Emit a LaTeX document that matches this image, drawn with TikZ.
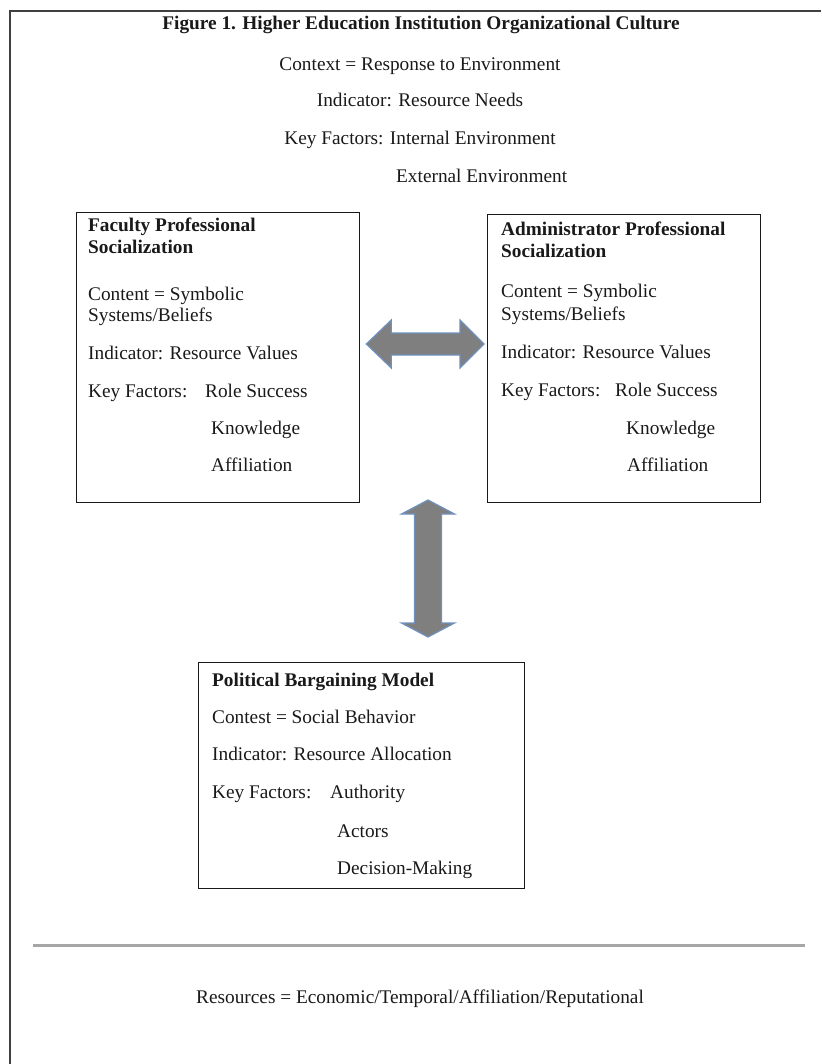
\documentclass[tikz,border=0pt]{standalone}
\usepackage{fontspec}
\setmainfont{Liberation Serif}
\usetikzlibrary{calc}
\definecolor{arrowgray}{RGB}{127,127,127}
\definecolor{arrowedge}{RGB}{110,145,190}
\definecolor{inkc}{RGB}{25,25,25}
\begin{document}
\begin{tikzpicture}[x=1pt,y=-1pt,
  txt/.style={inner sep=0pt, font=\fontsize{19.3}{23}\selectfont, text=inkc},
  lt/.style={txt, anchor=mid west},
  ct/.style={txt, anchor=mid},
  bt/.style={lt, font=\fontsize{19.3}{23}\selectfont\bfseries},
  box/.style={draw=inkc, line width=1.3pt, inner sep=0pt, anchor=north west},
  blk/.style={fill=arrowgray, draw=arrowedge, line width=1.2pt, line join=miter}]
\useasboundingbox (0,0) rectangle (821,1064);
% outer frame
\draw[line width=2pt, draw=black!75] (10,1064) -- (10,11) -- (821,11);

% header texts
\node[ct, font=\fontsize{19.3}{23}\selectfont\bfseries] (title) at (421,27) {Figure 1. Higher Education Institution Organizational Culture};
\node[ct] (h1) at (420,68) {Context = Response to Environment};
\node[ct] (h2) at (420,104) {Indicator: Resource Needs};
\node[ct] (h3) at (420,142) {Key Factors: Internal Environment};
\node[lt] (h4) at (396,180) {External Environment};

% boxes
\node[box, minimum width=283, minimum height=290] (fac) at (76,212) {};
\node[box, minimum width=273, minimum height=288] (adm) at (487,214) {};
\node[box, minimum width=326, minimum height=226] (pol) at (198,662) {};

% faculty box text
\node[bt] (f1) at (88,229) {Faculty Professional};
\node[bt] (f2) at (88,251) {Socialization};
\node[lt] (f3) at (88,298) {Content = Symbolic};
\node[lt] (f4) at (88,319) {Systems/Beliefs};
\node[lt] (f5) at (88,357) {Indicator: Resource Values};
\node[lt] (f6) at (88,395) {Key Factors:};
\node[lt] (f6b) at (205,395) {Role Success};
\node[lt] (f7) at (211,432) {Knowledge};
\node[lt] (f8) at (211,469) {Affiliation};

% administrator box text
\node[bt] (a1) at (501,233) {Administrator Professional};
\node[bt] (a2) at (501,255) {Socialization};
\node[lt] (a3) at (501,295) {Content = Symbolic};
\node[lt] (a4) at (501,318) {Systems/Beliefs};
\node[lt] (a5) at (501,356) {Indicator: Resource Values};
\node[lt] (a6) at (501,394) {Key Factors:};
\node[lt] (a6b) at (615,394) {Role Success};
\node[lt] (a7) at (626,432) {Knowledge};
\node[lt] (a8) at (627,469) {Affiliation};

% political box text
\node[bt] (p1) at (212,684) {Political Bargaining Model};
\node[lt] (p2) at (212,721) {Contest = Social Behavior};
\node[lt] (p3) at (212,758) {Indicator: Resource Allocation};
\node[lt] (p4) at (212,796) {Key Factors:};
\node[lt] (p4b) at (330,796) {Authority};
\node[lt] (p5) at (337,835) {Actors};
\node[lt] (p6) at (337,872) {Decision-Making};

% horizontal block double arrow between fac and adm
\coordinate (hL) at ($(fac.east |- 0,344)+(6,0)$);
\coordinate (hR) at ($(adm.west |- 0,344)+(-3,0)$);
\draw[blk] (hL) -- ($(hL)+(25,-24)$) -- ($(hL)+(25,-11)$) -- ($(hR)+(-24,-11)$)
  -- ($(hR)+(-24,-24)$) -- (hR) -- ($(hR)+(-24,24)$) -- ($(hR)+(-24,11)$)
  -- ($(hL)+(25,11)$) -- ($(hL)+(25,24)$) -- cycle;

% vertical block double arrow down to pol
\coordinate (vT) at (428,500);
\coordinate (vB) at ($(pol.north -| 428,0)+(0,-25)$);
\draw[blk] (vT) -- ($(vT)+(26.5,14)$) -- ($(vT)+(13.5,14)$) -- ($(vB)+(13.5,-14)$)
  -- ($(vB)+(26.5,-14)$) -- (vB) -- ($(vB)+(-26.5,-14)$) -- ($(vB)+(-13.5,-14)$)
  -- ($(vT)+(-13.5,14)$) -- ($(vT)+(-26.5,14)$) -- cycle;

% separator and footer
\draw[line width=3pt, draw=black!35] (33,945) -- (805,945);
\node[ct] (res) at (420,1001) {Resources = Economic/Temporal/Affiliation/Reputational};
\end{tikzpicture}
\end{document}
